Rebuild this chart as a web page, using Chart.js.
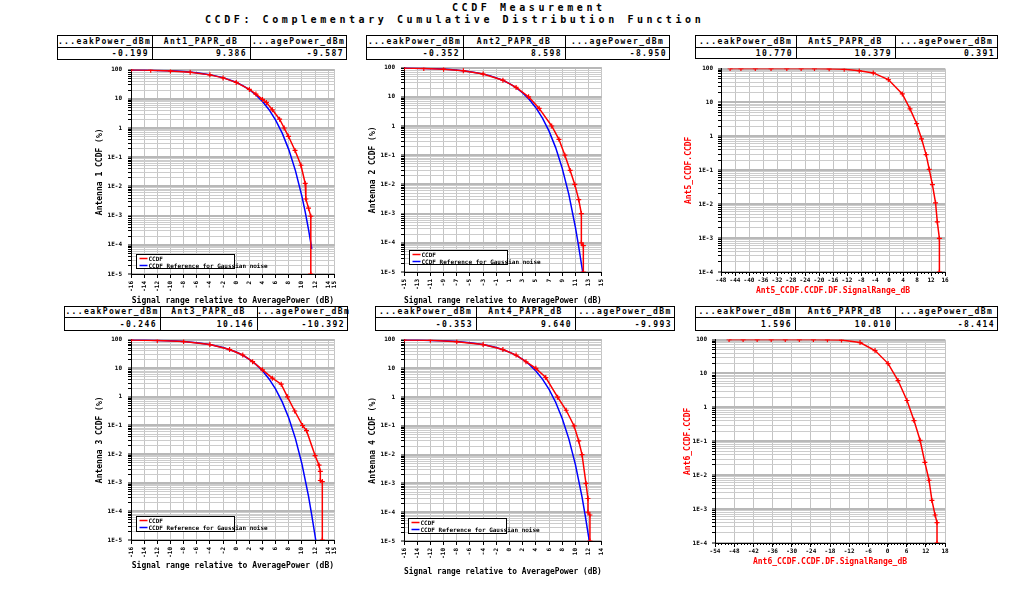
<!DOCTYPE html>
<html><head><meta charset="utf-8">
<script src="https://cdn.jsdelivr.net/npm/chart.js@4.4.1/dist/chart.umd.min.js"></script>
<style>
html,body{margin:0;padding:0;background:#fff;}
body{width:1020px;height:593px;position:relative;overflow:hidden;font-family:"DejaVu Sans Mono",monospace;}
.ttl{position:absolute;white-space:pre;font:bold 10px "DejaVu Sans Mono",monospace;letter-spacing:3.58px;color:#000;line-height:12px;}
canvas{position:absolute;}
.box{position:absolute;border:1px solid #000;box-sizing:border-box;background:#fff;}
.ln{position:absolute;background:#000;}
.cell{position:absolute;white-space:pre;font:bold 8px "DejaVu Sans Mono",monospace;letter-spacing:1.4px;color:#000;line-height:10px;}
</style></head><body>
<div class="ttl" style="left:452px;top:2px;">CCDF Measurement</div>
<div class="ttl" style="left:205px;top:14px;">CCDF: Complementary Cumulative Distribution Function</div>
<script>
// ---------------- DATA ----------------
const signalTitle = "Signal range relative to AveragePower (dB)";
const seriesNames = ["CCDF", "CCDF Reference for Gaussian noise"];

const p1Headers = ["...eakPower_dBm", "Ant1_PAPR_dB", "...agePower_dBm"];
const p1Values  = ["-0.199", "9.386", "-9.587"];
const p2Headers = ["...eakPower_dBm", "Ant2_PAPR_dB", "...agePower_dBm"];
const p2Values  = ["-0.352", "8.598", "-8.950"];
const p3Headers = ["...eakPower_dBm", "Ant5_PAPR_dB", "...agePower_dBm"];
const p3Values  = ["10.770", "10.379", "0.391"];
const p4Headers = ["...eakPower_dBm", "Ant3_PAPR_dB", "...agePower_dBm"];
const p4Values  = ["-0.246", "10.146", "-10.392"];
const p5Headers = ["...eakPower_dBm", "Ant4_PAPR_dB", "...agePower_dBm"];
const p5Values  = ["-0.353", "9.640", "-9.993"];
const p6Headers = ["...eakPower_dBm", "Ant6_PAPR_dB", "...agePower_dBm"];
const p6Values  = ["1.596", "10.010", "-8.414"];

const yLabels5 = ["100", "10", "1", "1E-1", "1E-2", "1E-3", "1E-4", "1E-5"];
const yLabels4 = ["100", "10", "1", "1E-1", "1E-2", "1E-3", "1E-4"];

const p1XTicks = [-16,-14,-12,-10,-8,-6,-4,-2,0,2,4,6,8,10,12,14,15];
const p2XTicks = [-15,-13,-11,-9,-7,-5,-3,-1,1,3,5,7,9,11,13,15];
const p3XTicks = [-48,-44,-40,-36,-32,-28,-24,-20,-16,-12,-8,-4,0,4,8,12,16];
const p4XTicks = [-16,-14,-12,-10,-8,-6,-4,-2,0,2,4,6,8,10,12,14,15];
const p5XTicks = [-16,-14,-12,-10,-8,-6,-4,-2,0,2,4,6,8,10,12,14];
const p6XTicks = [-54,-48,-42,-36,-30,-24,-18,-12,-6,0,6,12,18];

// Antenna 1
const p1RedX  = [-16,-13,-10,-7,-4,-2,0,2,3,4,4.6,5.5,6.6,7.3,7.95,8.95,9.85,10.5,10.6,11.0,11.35,11.35];
const p1RedY  = [98,95.5,90,81,66,52,36.5,21,14.5,9.5,7.5,4.2,2.0,1.0,0.52,0.17,0.053,0.0126,0.0037,0.0018,0.00095,0.00001];
const p1BlueX = [-16,-14,-12,-10,-8,-6,-4,-2,0,1,2,3,4,5,6,7,8,9,10,10.5,11,11.5];
const p1BlueY = [97.5,96.1,93.9,90.5,85.3,77.8,67.2,53.2,36.8,28.4,20.5,13.6,8.11,4.23,1.87,0.666,0.182,0.0355,0.00454,0.00134,0.00034,0.000073];
// Antenna 2
const p2RedX  = [-15,-12,-9,-6,-3,0,2,3.9,5.5,7.4,8.5,9.4,10.2,10.9,11.5,11.9,11.9,12.2,12.2];
const p2RedY  = [97,94,88,78,60,37,21,10,4.0,1.0,0.35,0.1,0.03,0.01,0.003,0.001,0.0001,0.00008,0.00001];
const p2BlueX = [-15,-12,-10,-8,-6,-4,-2,0,1,2,3,4,5,6,7,8,9,10,11,11.5,12.1];
const p2BlueY = [96.9,93.9,90.5,85.3,77.8,67.2,53.2,36.8,28.4,20.5,13.6,8.11,4.23,1.87,0.666,0.182,0.0355,0.00454,0.00034,0.000073,0.00001];
// Ant5
const p3RedX  = [-45.4,-42.3,-38.2,-33.7,-29.2,-25.1,-21.3,-17.1,-12.8,-8.5,-4.5,-0.2,3.8,6,7.9,9.3,10.6,11.5,12.4,13.3,13.8,14.4,14.4];
const p3RedY  = [100,100,100,100,100,100,100,98.5,95,87,74.6,47.6,17.9,6.5,2.37,0.85,0.29,0.107,0.038,0.011,0.003,0.00098,0.0001];
// Antenna 3
const p4RedX  = [-16,-12,-8,-4,-1,1,2.5,4,5.5,6.85,7.8,8.9,10.1,10.7,12.0,12.6,12.8,12.8,13.1,13.1];
const p4RedY  = [97.5,93.5,85,67,45,29,17,8.8,4.5,2.77,1.0,0.32,0.1,0.066,0.0089,0.0041,0.0025,0.0012,0.0011,0.00001];
const p4BlueX = [-16,-14,-12,-10,-8,-6,-4,-2,0,1,2,3,4,5,6,7,8,9,10,11,11.5,12.1];
const p4BlueY = [97.5,96.1,93.9,90.5,85.3,77.8,67.2,53.2,36.8,28.4,20.5,13.6,8.11,4.23,1.87,0.666,0.182,0.0355,0.00454,0.00034,0.000073,0.00001];
// Antenna 4
const p5RedX  = [-16,-12,-8,-4,-1,1,2.5,4,5.5,7.3,8.6,9.8,10.5,11,11.6,11.9,11.9,12.2,12.2];
const p5RedY  = [97.5,94,85,67,45,29,17,10,4.8,1.0,0.35,0.1,0.03,0.01,0.001,0.0003,0.0001,0.00008,0.00001];
const p5BlueX = [-16,-14,-12,-10,-8,-6,-4,-2,0,1,2,3,4,5,6,7,8,9,10,11,11.5,12.1];
const p5BlueY = [97.5,96.1,93.9,90.5,85.3,77.8,67.2,53.2,36.8,28.4,20.5,13.6,8.11,4.23,1.87,0.666,0.182,0.0355,0.00454,0.00034,0.000073,0.00001];
// Ant6
const p6RedX  = [-49.6,-45.2,-40.8,-36.4,-32,-27.6,-23.2,-18.8,-14.4,-8.6,-3.9,0.2,3.3,6.1,8.3,10.2,11.7,13.0,13.9,14.9,15.5,15.5];
const p6RedY  = [100,100,100,100,100,100,100,99,97,81.6,47.6,19.6,6.2,1.6,0.41,0.107,0.024,0.0071,0.0018,0.00067,0.0004,0.0001];

// ---------------- RENDER ----------------
const FONT = '"DejaVu Sans Mono", monospace';
Chart.defaults.font.family = FONT;
Chart.defaults.color = '#000';
const RED = '#ff0000', BLUE = '#0000ff';

function makeTable(left, top, cols, rows, headers, values) {
  const W = cols.reduce((a,b)=>a+b,0), H = rows[0]+rows[1];
  const box = document.createElement('div');
  box.className = 'box';
  Object.assign(box.style, {left:left+'px', top:top+'px', width:W+'px', height:H+'px'});
  document.body.appendChild(box);
  const hl = document.createElement('div'); hl.className='ln';
  Object.assign(hl.style,{left:left+'px',top:(top+rows[0])+'px',width:W+'px',height:'1px'});
  document.body.appendChild(hl);
  let x = left;
  cols.forEach((w,i)=>{
    if (i>0) {
      const vl = document.createElement('div'); vl.className='ln';
      Object.assign(vl.style,{left:x+'px',top:top+'px',width:'1px',height:H+'px'});
      document.body.appendChild(vl);
    }
    const h = document.createElement('div'); h.className='cell'; h.textContent = headers[i];
    Object.assign(h.style,{left:x+'px',top:(top+(rows[0]-10)/2+0.5)+'px',width:w+'px',textAlign:'center'});
    document.body.appendChild(h);
    const v = document.createElement('div'); v.className='cell'; v.textContent = values[i];
    Object.assign(v.style,{left:x+'px',top:(top+rows[0]+(rows[1]-10)/2+0.5)+'px',width:(w-3)+'px',textAlign:'right'});
    document.body.appendChild(v);
    x += w;
  });
}

makeTable(57, 35, [95,98,97], [12,13], p1Headers, p1Values);
makeTable(366, 35, [97,102,105], [12,13], p2Headers, p2Values);
makeTable(695, 35, [101,99,103], [12,12], p3Headers, p3Values);
makeTable(64, 306, [96,97,91], [11,14], p4Headers, p4Values);
makeTable(375, 306, [101,99,100], [11,14], p5Headers, p5Values);
makeTable(695, 306, [100,100,103], [11,14], p6Headers, p6Values);

const boxLegend = {
  id: 'boxLegend',
  afterDatasetsDraw(chart, args, o) {
    if (!o || !o.show) return;
    const {ctx, chartArea: a} = chart;
    const x = Math.round(a.left + o.dx) + 0.5, y = Math.round(a.bottom - o.dy) + 0.5;
    ctx.save();
    ctx.fillStyle = '#fff'; ctx.fillRect(x, y, o.w, o.h);
    ctx.strokeStyle = '#000'; ctx.lineWidth = 1; ctx.strokeRect(x, y, o.w, o.h);
    ctx.font = 'bold 6px ' + FONT; ctx.textBaseline = 'middle'; ctx.textAlign = 'left';
    chart.data.datasets.forEach((d, i) => {
      const ly = y + 4 + i * 7;
      ctx.strokeStyle = d.borderColor; ctx.lineWidth = 1.5;
      ctx.beginPath(); ctx.moveTo(x + 3, ly); ctx.lineTo(x + 11, ly); ctx.stroke();
      ctx.fillStyle = '#000'; ctx.fillText(d.label, x + 12, ly + 0.5);
    });
    ctx.restore();
  }
};
const minorTicks = {
  id: 'minorTicks',
  afterDraw(chart, args, o) {
    if (!o || !o.step) return;
    const sc = chart.scales.x, ctx = chart.ctx;
    ctx.save(); ctx.strokeStyle = '#000'; ctx.lineWidth = 1; ctx.beginPath();
    for (let v = sc.min; v <= sc.max + 1e-9; v += o.step) {
      const px = Math.round(sc.getPixelForValue(v)) + 0.5;
      ctx.moveTo(px, sc.top); ctx.lineTo(px, sc.top + 2);
    }
    ctx.stroke(); ctx.restore();
  }
};

function isDecade(v) { const e = Math.log10(v); return Math.abs(e - Math.round(e)) < 1e-9; }

function makeChart(c) {
  const cv = document.createElement('canvas');
  cv.width = c.right - c.left; cv.height = c.bottom - c.top;
  cv.style.left = c.left + 'px'; cv.style.top = c.top + 'px';
  document.body.appendChild(cv);
  const datasets = c.series.map(s => ({
    label: s.label,
    data: s.x.map((x, i) => ({x, y: s.y[i]})),
    borderColor: s.color, backgroundColor: s.color,
    borderWidth: 1.5, tension: 0, fill: false,
    pointStyle: 'cross', pointRadius: s.markers ? 2.5 : 0, pointBorderWidth: 1.2, pointHoverRadius: 0
  }));
  const maxExp = 2, minExp = maxExp - (c.yLabels.length - 1);
  const yTickVals = [];
  for (let e = minExp; e < maxExp; e++) for (let m = 1; m <= 9; m++) yTickVals.push(m * Math.pow(10, e));
  yTickVals.push(Math.pow(10, maxExp));
  const xs = c.xTicks;
  new Chart(cv, {
    type: 'line',
    data: {datasets},
    options: {
      responsive: false, animation: false, devicePixelRatio: 1,
      events: [],
      layout: {padding: {top: c.plotTop - c.top, right: c.right - c.plotRight, left: 0, bottom: 0}},
      plugins: {legend: {display: false}, tooltip: {enabled: false},
                boxLegend: c.legend || {show: false}, minorTicks: c.minor ? {step: c.minor} : {}},
      scales: {
        x: {
          type: 'linear', min: xs[0], max: xs[xs.length - 1],
          afterBuildTicks: sc => { sc.ticks = xs.map(v => ({value: v})); },
          afterFit: sc => { sc.height = c.bottom - c.plotBottom; },
          ticks: {autoSkip: false, minRotation: c.rot, maxRotation: c.rot, padding: c.rot ? 3 : 1,
                  font: {size: 6, weight: 'bold'}, color: '#000', callback: v => String(v)},
          grid: {color: '#c4c4c4', lineWidth: 1, tickColor: '#000', tickLength: 4, tickWidth: 1},
          border: {color: '#000', width: 1},
          title: {display: true, text: c.xTitle, color: c.titleColor, font: {size: 8, weight: 'bold'}, padding: {top: 0, bottom: 1}}
        },
        y: {
          type: 'logarithmic', min: Math.pow(10, minExp), max: Math.pow(10, maxExp),
          afterBuildTicks: sc => { sc.ticks = yTickVals.map(v => ({value: v})); },
          afterFit: sc => { sc.width = c.plotLeft - c.left; },
          ticks: {autoSkip: false, padding: c.yPad, font: {size: 6, weight: 'bold'}, color: '#000',
                  callback: v => isDecade(v) ? c.yLabels[maxExp - Math.round(Math.log10(v))] : ''},
          grid: {color: ctx => isDecade(ctx.tick.value) ? '#b8b8b8' : '#cccccc',
                 lineWidth: ctx => isDecade(ctx.tick.value) ? 2 : 1,
                 tickColor: '#000', tickLength: 3, tickWidth: 1},
          border: {color: '#000', width: 1},
          title: {display: true, text: c.yTitle, color: c.titleColor, font: {size: 8, weight: 'bold'}, padding: {top: 1, bottom: 0}}
        }
      }
    },
    plugins: [boxLegend, minorTicks]
  });
}

function twoSeries(rx, ry, bx, by) {
  return [
    {label: seriesNames[0], x: rx, y: ry, color: RED, markers: true},
    {label: seriesNames[1], x: bx, y: by, color: BLUE, markers: false}
  ];
}

makeChart({left: 94, top: 60, right: 345, bottom: 307, plotLeft: 131, plotRight: 337, plotTop: 68, plotBottom: 274,
  xTicks: p1XTicks, yLabels: yLabels5, rot: 90, yPad: 6, xTitle: signalTitle, yTitle: "Antenna 1 CCDF (%)", titleColor: '#000',
  series: twoSeries(p1RedX, p1RedY, p1BlueX, p1BlueY), legend: {show: true, dx: 5, dy: 20, w: 98, h: 14}});
makeChart({left: 367, top: 58, right: 612, bottom: 307, plotLeft: 404, plotRight: 604, plotTop: 66, plotBottom: 272,
  xTicks: p2XTicks, yLabels: yLabels5, rot: 90, yPad: 6, xTitle: signalTitle, yTitle: "Antenna 2 CCDF (%)", titleColor: '#000',
  series: twoSeries(p2RedX, p2RedY, p2BlueX, p2BlueY), legend: {show: true, dx: 5, dy: 22, w: 98, h: 14}});
makeChart({left: 683, top: 60, right: 953, bottom: 297, plotLeft: 721, plotRight: 945, plotTop: 68, plotBottom: 272,
  xTicks: p3XTicks, yLabels: yLabels4, rot: 0, yPad: 5, xTitle: "Ant5_CCDF.CCDF.DF.SignalRange_dB", yTitle: "Ant5_CCDF.CCDF", titleColor: RED,
  series: [{label: seriesNames[0], x: p3RedX, y: p3RedY, color: RED, markers: true}], minor: 1});
makeChart({left: 94, top: 330, right: 345, bottom: 572, plotLeft: 131, plotRight: 337, plotTop: 338, plotBottom: 540,
  xTicks: p4XTicks, yLabels: yLabels5, rot: 90, yPad: 6, xTitle: signalTitle, yTitle: "Antenna 3 CCDF (%)", titleColor: '#000',
  series: twoSeries(p4RedX, p4RedY, p4BlueX, p4BlueY), legend: {show: true, dx: 5, dy: 24, w: 98, h: 15}});
makeChart({left: 367, top: 330, right: 612, bottom: 578, plotLeft: 404, plotRight: 604, plotTop: 338, plotBottom: 541,
  xTicks: p5XTicks, yLabels: yLabels5, rot: 90, yPad: 6, xTitle: signalTitle, yTitle: "Antenna 4 CCDF (%)", titleColor: '#000',
  series: twoSeries(p5RedX, p5RedY, p5BlueX, p5BlueY), legend: {show: true, dx: 4, dy: 23, w: 98, h: 15}});
makeChart({left: 682, top: 331, right: 953, bottom: 568, plotLeft: 715, plotRight: 945, plotTop: 339, plotBottom: 543,
  xTicks: p6XTicks, yLabels: yLabels4, rot: 0, yPad: 5, xTitle: "Ant6_CCDF.CCDF.DF.SignalRange_dB", yTitle: "Ant6_CCDF.CCDF", titleColor: RED,
  series: [{label: seriesNames[0], x: p6RedX, y: p6RedY, color: RED, markers: true}], minor: 1});
</script>
</body></html>
